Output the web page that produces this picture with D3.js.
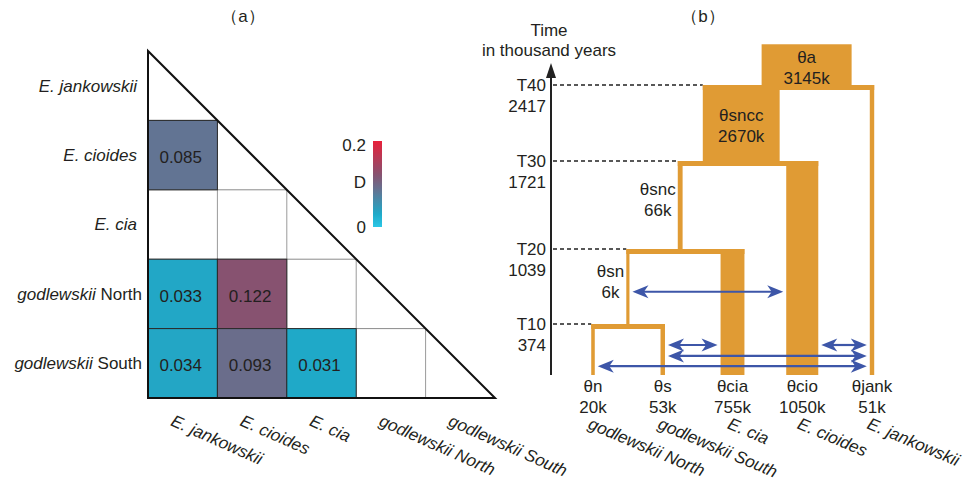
<!DOCTYPE html>
<html><head><meta charset="utf-8">
<script src="https://cdn.jsdelivr.net/npm/d3@7"></script>
<style>
body{margin:0;background:#fff;}
svg{display:block;font-family:"Liberation Sans",Arial,Helvetica,sans-serif;}
</style></head><body>
<svg id="chart" width="972" height="484"></svg>
<script>
// ---------------- Panel (a) data ----------------
const speciesA = ["E. jankowskii", "E. cioides", "E. cia", "godlewskii North", "godlewskii South"];
const dMatrix = [
  [null],
  [0.085, null],
  [null, null, null],
  [0.033, 0.122, null, null],
  [0.034, 0.093, 0.031, null, null]
];
const colorbarTicks = [0, 0.2];
const colorbarTitle = "D";

// ---------------- Panel (b) data ----------------
const leafPops = ["θn", "θs", "θcia", "θcio", "θjank"];
const leafTheta = [20, 53, 755, 1050, 51];
const leafSpecies = ["godlewskii North", "godlewskii South", "E. cia", "E. cioides", "E. jankowskii"];
const ancPops = ["θsn", "θsnc", "θsncc", "θa"];
const ancTheta = [6, 66, 2670, 3145];
const ancLeft = ["θn", "θsn", "θsnc", "θsncc"];
const ancRight = ["θs", "θcia", "θcio", "θjank"];
const tauLabels = ["T10", "T20", "T30", "T40"];
const tauValues = [374, 1039, 1721, 2417];
const rootTopTime = 2790;
const migFrom = ["θsn", "θs", "θcio", "θs", "θn"];
const migTo = ["θcio", "θcia", "θjank", "θjank", "θjank"];
const migTime = [660, 220, 220, 140, 65];
const axisTitle = ["Time", "in thousand years"];

// ---------------- helpers ----------------
const TXT = "#231f20";
const FS = 17;
const svg = d3.select("#chart");

function speciesParts(name, allItalic) {
  if (name.startsWith("godlewskii")) {
    return [["godlewskii", "italic"], [name.slice(10), allItalic ? "italic" : "normal"]];
  }
  return [[name, "italic"]];
}
function addSpeciesText(sel, name, allItalic) {
  speciesParts(name, allItalic).forEach(p => {
    sel.append("tspan").attr("font-style", p[1]).text(p[0]);
  });
}

// ---------------- Titles ----------------
svg.append("text").attr("x", 243).attr("y", 22).attr("text-anchor", "middle")
  .attr("font-size", FS).attr("fill", TXT).text("（a）");
svg.append("text").attr("x", 703).attr("y", 22).attr("text-anchor", "middle")
  .attr("font-size", FS).attr("fill", TXT).text("（b）");

// ================= Panel (a) =================
const ax0 = 148, ay0 = 51, aSize = 347;
const xA = d3.scaleBand().domain(speciesA).range([ax0, ax0 + aSize]);
const yA = d3.scaleBand().domain(speciesA).range([ay0, ay0 + aSize]);
const bw = xA.bandwidth();
const color = d3.scaleLinear()
  .domain([0, 0.03, 0.085, 0.122, 0.2])
  .range(["#2cc7e6", "#1eaac9", "#627493", "#875270", "#e8203a"]);

const gA = svg.append("g");
// interior grid (lower triangle)
for (let k = 1; k < speciesA.length; k++) {
  gA.append("line")
    .attr("x1", ax0).attr("x2", ax0 + k * bw)
    .attr("y1", ay0 + k * bw).attr("y2", ay0 + k * bw)
    .attr("stroke", "#8a8a8a").attr("stroke-width", 1);
  gA.append("line")
    .attr("x1", ax0 + k * bw).attr("x2", ax0 + k * bw)
    .attr("y1", ay0 + k * bw).attr("y2", ay0 + aSize)
    .attr("stroke", "#9a9a9a").attr("stroke-width", 1);
}
// colored cells
const cells = [];
dMatrix.forEach((row, r) => row.forEach((v, c) => {
  if (v !== null) cells.push({ r: speciesA[r], c: speciesA[c], v });
}));
gA.selectAll("rect.cell").data(cells).join("rect")
  .attr("class", "cell")
  .attr("x", d => xA(d.c)).attr("y", d => yA(d.r))
  .attr("width", bw).attr("height", bw)
  .attr("fill", d => color(d.v))
  .attr("stroke", "#2a2a2a").attr("stroke-width", 1);
gA.selectAll("text.val").data(cells).join("text")
  .attr("class", "val")
  .attr("x", d => xA(d.c) + bw / 2 - 2).attr("y", d => yA(d.r) + bw / 2 + 2)
  .attr("dy", "0.35em").attr("text-anchor", "middle")
  .attr("font-size", FS).attr("fill", TXT)
  .text(d => d3.format(".3f")(d.v));
// triangle outline
gA.append("path")
  .attr("d", `M${ax0},${ay0}L${ax0},${ay0 + aSize}L${ax0 + aSize},${ay0 + aSize}Z`)
  .attr("fill", "none").attr("stroke", "#111").attr("stroke-width", 2)
  .attr("stroke-linejoin", "miter");
// row labels
speciesA.forEach(s => {
  const t = gA.append("text")
    .attr("x", ax0 - (s.startsWith("E.") ? 11 : 6)).attr("y", yA(s) + bw / 2).attr("dy", "0.35em")
    .attr("text-anchor", "end").attr("font-size", FS).attr("fill", TXT);
  addSpeciesText(t, s, false);
});
// column labels (rotated)
speciesA.forEach(s => {
  const t = gA.append("text")
    .attr("transform", `translate(${xA(s) + bw / 2 - 13},425) rotate(24)`)
    .attr("text-anchor", "start").attr("font-size", FS).attr("fill", TXT);
  addSpeciesText(t, s, true);
});
// colour bar
const cbX = 373, cbW = 9;
const cbY = d3.scaleLinear().domain(d3.extent(colorbarTicks)).range([227, 141]);
const grad = svg.append("defs").append("linearGradient")
  .attr("id", "cbgrad").attr("x1", 0).attr("y1", 1).attr("x2", 0).attr("y2", 0);
d3.range(0, 1.0001, 0.05).forEach(t => {
  grad.append("stop").attr("offset", t)
    .attr("stop-color", color(t * d3.max(colorbarTicks)));
});
gA.append("rect").attr("x", cbX).attr("y", cbY(0.2)).attr("width", cbW)
  .attr("height", cbY(0) - cbY(0.2)).attr("fill", "url(#cbgrad)");
colorbarTicks.forEach(v => {
  gA.append("text").attr("x", cbX - 7).attr("y", cbY(v) + (v === 0 ? 0 : 4))
    .attr("dy", "0.35em").attr("text-anchor", "end")
    .attr("font-size", FS).attr("fill", TXT).text(v === 0 ? "0" : String(v));
});
gA.append("text").attr("x", cbX - 7).attr("y", (cbY(0) + cbY(0.2)) / 2 - 2)
  .attr("dy", "0.35em").attr("text-anchor", "end")
  .attr("font-size", FS).attr("fill", TXT).text(colorbarTitle);

// ================= Panel (b) =================
const ORANGE = "#e09b34";
const BLUE = "#3d56a8";
const axisX = 551;
const yT = d3.scaleLinear().domain([0, ...tauValues]).range([375, 324, 249, 161, 85]);
const xLeaf = d3.scalePoint().domain(leafPops).range([593, 872]);
const wTheta = d3.scaleLinear().domain([0, d3.max(ancTheta)]).range([3, 90]);
const barH = 5;

const nodes = {};
leafPops.forEach((p, i) => {
  nodes[p] = { name: p, theta: leafTheta[i], x: xLeaf(p), w: wTheta(leafTheta[i]), bottom: yT(0), leaf: true };
});
ancPops.forEach((p, i) => {
  const L = nodes[ancLeft[i]], R = nodes[ancRight[i]];
  const tSplit = tauValues[i];
  L.top = yT(tSplit); R.top = yT(tSplit);
  const tTop = i + 1 < tauValues.length ? tauValues[i + 1] : rootTopTime;
  nodes[p] = { name: p, theta: ancTheta[i], x: (L.x + R.x) / 2, w: wTheta(ancTheta[i]),
    bottom: yT(tSplit), top: yT(tTop), leaf: false, left: L, right: R, tau: tSplit };
});

const gB = svg.append("g");
// time axis
gB.append("line").attr("x1", axisX).attr("x2", axisX).attr("y1", yT(0)).attr("y2", 74)
  .attr("stroke", "#222").attr("stroke-width", 2);
gB.append("path").attr("d", `M${axisX},63L${axisX - 5},78L${axisX + 5},78Z`).attr("fill", "#222");
axisTitle.forEach((t, i) => {
  gB.append("text").attr("x", 549).attr("y", 36 + i * 20).attr("text-anchor", "middle")
    .attr("font-size", FS).attr("fill", TXT).text(t);
});
// ticks + dashed guides
ancPops.forEach((p, i) => {
  const n = nodes[p];
  const y = yT(tauValues[i]);
  const barLeft = n.left.x - n.left.w / 2;
  gB.append("line").attr("x1", axisX + 2).attr("x2", barLeft).attr("y1", y).attr("y2", y)
    .attr("stroke", "#222").attr("stroke-width", 1.3).attr("stroke-dasharray", "4,3");
  gB.append("text").attr("x", axisX - 5).attr("y", y + 6).attr("text-anchor", "end")
    .attr("font-size", FS).attr("fill", TXT).text(tauLabels[i]);
  gB.append("text").attr("x", axisX - 5).attr("y", y + 27).attr("text-anchor", "end")
    .attr("font-size", FS).attr("fill", TXT).text(tauValues[i]);
});
// population blocks
Object.values(nodes).forEach(n => {
  gB.append("rect").attr("x", n.x - n.w / 2).attr("y", n.top)
    .attr("width", n.w).attr("height", n.bottom - n.top).attr("fill", ORANGE);
});
// split bars
ancPops.forEach(p => {
  const n = nodes[p];
  const x1 = n.left.x - n.left.w / 2, x2 = n.right.x + n.right.w / 2;
  gB.append("rect").attr("x", x1).attr("y", yT(n.tau)).attr("width", x2 - x1)
    .attr("height", barH).attr("fill", ORANGE);
});
// population labels
function thetaLabel(n) { return String(n.theta) + "k"; }
leafPops.forEach(p => {
  const n = nodes[p];
  gB.append("text").attr("x", n.x).attr("y", n.bottom + 17).attr("text-anchor", "middle")
    .attr("font-size", FS).attr("fill", TXT).text(p);
  gB.append("text").attr("x", n.x).attr("y", n.bottom + 38).attr("text-anchor", "middle")
    .attr("font-size", FS).attr("fill", TXT).text(thetaLabel(n));
});
ancPops.forEach(p => {
  const n = nodes[p];
  const mid = (n.top + n.bottom) / 2;
  if (n.w > 20) {
    gB.append("text").attr("x", n.x).attr("y", mid - 2).attr("text-anchor", "middle")
      .attr("font-size", FS).attr("fill", TXT).text(p);
    gB.append("text").attr("x", n.x).attr("y", mid + 19).attr("text-anchor", "middle")
      .attr("font-size", FS).attr("fill", TXT).text(thetaLabel(n));
  } else {
    const t1 = gB.append("text").attr("x", n.x - n.w / 2 - 2).attr("y", mid - 10)
      .attr("text-anchor", "end").attr("font-size", FS).attr("fill", TXT).text(p);
    const len = t1.node().getComputedTextLength();
    gB.append("text").attr("x", n.x - n.w / 2 - 2 - len / 2).attr("y", mid + 11)
      .attr("text-anchor", "middle").attr("font-size", FS).attr("fill", TXT).text(thetaLabel(n));
  }
});
// migration arrows
const headPath = "M0,0L-16,-6.5L-11.5,0L-16,6.5Z";
migFrom.forEach((f, i) => {
  let A = nodes[f], B = nodes[migTo[i]];
  if (A.x > B.x) { const tmp = A; A = B; B = tmp; }
  const y = yT(migTime[i]);
  const x1 = A.x + A.w / 2 + 3, x2 = B.x - B.w / 2 - 3;
  gB.append("line").attr("x1", x1 + 8).attr("x2", x2 - 8).attr("y1", y).attr("y2", y)
    .attr("stroke", BLUE).attr("stroke-width", 2.2);
  gB.append("path").attr("d", headPath).attr("fill", BLUE)
    .attr("transform", `translate(${x2},${y})`);
  gB.append("path").attr("d", headPath).attr("fill", BLUE)
    .attr("transform", `translate(${x1},${y}) rotate(180)`);
});
// species labels under leaves (rotated)
leafPops.forEach((p, i) => {
  const n = nodes[p];
  const t = gB.append("text")
    .attr("transform", `translate(${n.x - 6},428) rotate(23)`)
    .attr("text-anchor", "start").attr("font-size", FS).attr("fill", TXT);
  addSpeciesText(t, leafSpecies[i], true);
});
</script>
</body></html>
